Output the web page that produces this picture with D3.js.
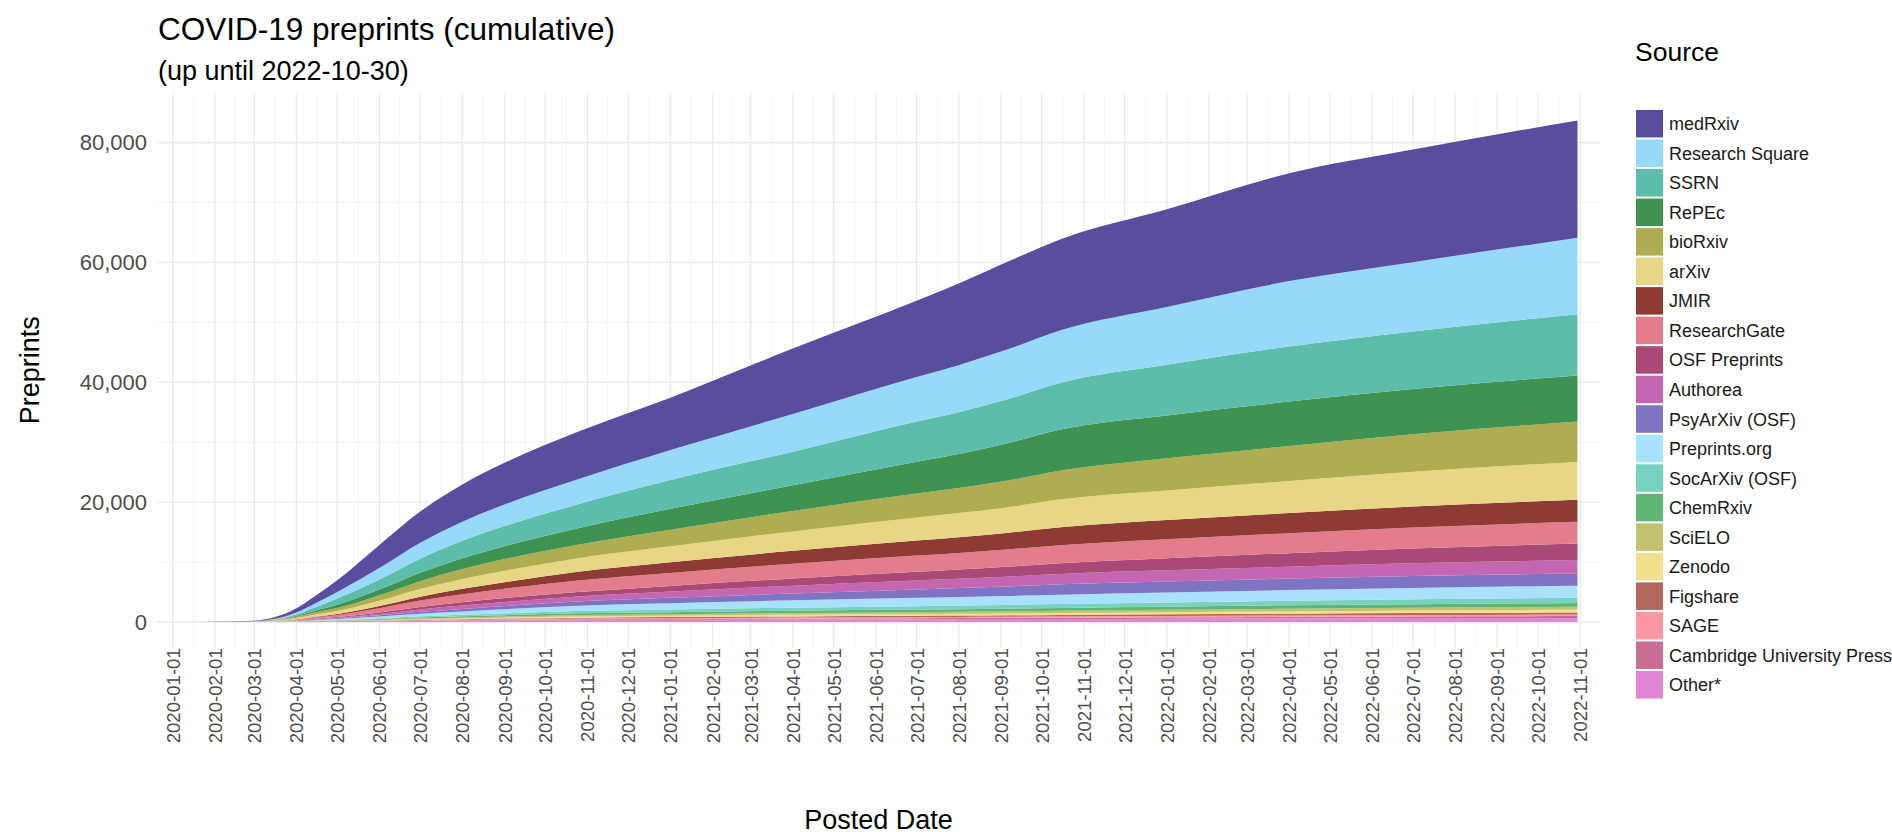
<!DOCTYPE html>
<html>
<head>
<meta charset="utf-8">
<script src="https://cdn.jsdelivr.net/npm/d3@7"></script>
<style>
  html, body { margin: 0; padding: 0; background: #fff; }
  svg { display: block; font-family: "Liberation Sans", Arial, sans-serif; }
  .grid-major { stroke: #ebebeb; stroke-width: 1.4; }
  .grid-minor { stroke: #f0f0f0; stroke-width: 0.8; }
  .tick-text { fill: #4d4d4d; }
</style>
</head>
<body>
<svg id="chart" width="1892" height="832"></svg>
<script>
// ── DATA (cumulative preprint counts) ─────────────────────────────────────

const dates = ["2020-01-15", "2020-02-01", "2020-03-01", "2020-03-15", "2020-04-01", "2020-04-15",
  "2020-05-01", "2020-06-01", "2020-07-01", "2020-08-01", "2020-09-01", "2020-10-25",
  "2021-01-01", "2021-04-01", "2021-07-01", "2021-08-01", "2021-09-05", "2021-10-15",
  "2022-01-01", "2022-04-01", "2022-07-01", "2022-10-30"];

const medRxiv = [0, 15, 90, 260, 680, 1250, 1940, 3850, 5200, 6200, 6950, 7950, 8750, 10900, 12700, 13600, 14600, 15200, 16300, 18000, 18800, 19570];
const researchSquare = [0, 0, 20, 80, 300, 650, 1100, 1900, 2650, 3200, 3600, 4150, 5000, 6300, 7450, 7850, 8300, 8750, 9650, 10900, 11550, 12760];
const ssrn = [0, 0, 10, 60, 250, 550, 1050, 1700, 2350, 2900, 3350, 4000, 4800, 5600, 6700, 6980, 7300, 7800, 8450, 9200, 9600, 10210];
const repec = [0, 0, 0, 20, 120, 300, 550, 950, 1400, 1800, 2150, 2750, 3500, 4300, 5300, 5650, 6250, 6850, 7150, 7400, 7550, 7700];
const bioRxiv = [0, 5, 40, 100, 250, 380, 480, 900, 1300, 1650, 1950, 2250, 2750, 3400, 4000, 4200, 4450, 4800, 5350, 5850, 6250, 6720];
const arXiv = [0, 10, 40, 90, 220, 380, 500, 900, 1300, 1650, 1900, 2250, 2650, 3250, 3850, 4030, 4250, 4650, 4950, 5350, 5800, 6310];
const jmir = [0, 0, 0, 10, 40, 90, 170, 380, 650, 900, 1100, 1480, 1800, 2150, 2500, 2610, 2750, 3000, 3200, 3350, 3520, 3690];
const researchGate = [0, 0, 5, 30, 120, 230, 340, 680, 1050, 1350, 1550, 1900, 2150, 2450, 2700, 2780, 2880, 3000, 3180, 3330, 3480, 3620];
const osfPreprints = [0, 0, 0, 5, 30, 70, 110, 250, 420, 550, 650, 760, 950, 1200, 1450, 1540, 1650, 1780, 2000, 2250, 2480, 2750];
const authorea = [0, 0, 0, 5, 30, 70, 110, 230, 400, 550, 680, 830, 1050, 1300, 1500, 1560, 1640, 1730, 1850, 1980, 2120, 2250];
const psyArXiv = [0, 0, 0, 5, 30, 70, 110, 200, 320, 430, 540, 700, 900, 1150, 1400, 1490, 1600, 1750, 1850, 1930, 1990, 2040];
const preprintsOrg = [0, 0, 10, 40, 100, 140, 170, 300, 430, 560, 680, 880, 1030, 1220, 1380, 1425, 1480, 1550, 1670, 1780, 1890, 2000];
const socArXiv = [0, 0, 3, 8, 25, 45, 70, 130, 200, 255, 310, 400, 450, 520, 575, 593, 615, 650, 700, 765, 815, 870];
const chemRxiv = [0, 0, 2, 6, 18, 32, 52, 100, 150, 190, 230, 295, 335, 385, 425, 438, 455, 480, 520, 570, 610, 650];
const sciELO = [0, 0, 2, 5, 14, 25, 40, 76, 117, 148, 178, 228, 258, 295, 326, 337, 350, 369, 400, 437, 467, 500];
const zenodo = [0, 0, 2, 4, 12, 22, 36, 68, 103, 130, 158, 202, 229, 262, 289, 298, 310, 327, 354, 387, 414, 440];
const figshare = [0, 0, 1, 3, 9, 17, 28, 52, 80, 101, 122, 155, 176, 202, 223, 231, 240, 252, 273, 298, 319, 340];
const sage = [0, 0, 1, 3, 7, 13, 21, 40, 61, 77, 93, 118, 134, 154, 170, 175, 182, 192, 208, 227, 243, 260];
const cambridge = [0, 0, 1, 3, 8, 15, 24, 46, 70, 89, 107, 137, 155, 178, 196, 203, 211, 222, 240, 263, 281, 300];
const other = [0, 0, 3, 8, 17, 31, 59, 108, 169, 210, 252, 315, 363, 404, 446, 465, 487, 508, 555, 601, 651, 690];

// legend order (top of the stack first)
const sources = ["medRxiv", "Research Square", "SSRN", "RePEc", "bioRxiv", "arXiv", "JMIR",
  "ResearchGate", "OSF Preprints", "Authorea", "PsyArXiv (OSF)", "Preprints.org",
  "SocArXiv (OSF)", "ChemRxiv", "SciELO", "Zenodo", "Figshare", "SAGE",
  "Cambridge University Press", "Other*"];
const seriesValues = [medRxiv, researchSquare, ssrn, repec, bioRxiv, arXiv, jmir,
  researchGate, osfPreprints, authorea, psyArXiv, preprintsOrg,
  socArXiv, chemRxiv, sciELO, zenodo, figshare, sage, cambridge, other];
const colors = ["#584d9e", "#98d8f8", "#5cbdab", "#3e9353", "#aead51", "#e6d686", "#8e3b36",
  "#e37d8d", "#a84a75", "#c466b2", "#7e74c3", "#a9e0fc",
  "#77d2c0", "#5fb575", "#c2c270", "#f1e08e", "#b3675f", "#fa97a2",
  "#c86e96", "#e185d5"];

const yTicks = [0, 20000, 40000, 60000, 80000];
const yMinor = [10000, 30000, 50000, 70000];

// ── CHART ─────────────────────────────────────────────────────────────────

const svg = d3.select("#chart");
const panel = { left: 157, right: 1600, top: 93.3, bottom: 647.2 };
const innerWidth = panel.right - panel.left;
const innerHeight = panel.bottom - panel.top;

const parseDate = d3.utcParse("%Y-%m-%d");

const xScale = d3.scaleUtc()
  .domain([new Date(Date.UTC(2019, 11, 20, 11)), new Date(Date.UTC(2022, 10, 15, 13, 30))])
  .range([0, innerWidth]);
const yScale = d3.scaleLinear().domain([-4200, 88200]).range([innerHeight, 0]);

const group = svg.append("g").attr("transform", `translate(${panel.left},${panel.top})`);

// grid lines (monthly majors, mid-month minors)
const months = d3.utcMonth.range(new Date(Date.UTC(2020, 0, 1)), new Date(Date.UTC(2022, 10, 2)));
const midMonths = months.slice(1).map((m, i) => new Date((m.getTime() + months[i].getTime()) / 2));

group.append("g").selectAll("line").data(yMinor).join("line")
  .attr("class", "grid-minor")
  .attr("x1", 0).attr("x2", innerWidth)
  .attr("y1", (d) => yScale(d)).attr("y2", (d) => yScale(d));
group.append("g").selectAll("line").data(midMonths).join("line")
  .attr("class", "grid-minor")
  .attr("x1", (d) => xScale(d)).attr("x2", (d) => xScale(d))
  .attr("y1", 0).attr("y2", innerHeight);
group.append("g").selectAll("line").data(yTicks).join("line")
  .attr("class", "grid-major")
  .attr("x1", 0).attr("x2", innerWidth)
  .attr("y1", (d) => yScale(d)).attr("y2", (d) => yScale(d));
group.append("g").selectAll("line").data(months).join("line")
  .attr("class", "grid-major")
  .attr("x1", (d) => xScale(d)).attr("x2", (d) => xScale(d))
  .attr("y1", 0).attr("y2", innerHeight);

// stacked areas: first legend entry sits on top, so stack keys bottom-up
const table = dates.map((d, i) => {
  const row = { date: parseDate(d) };
  sources.forEach((s, j) => (row[s] = seriesValues[j][i]));
  return row;
});
const stackKeys = sources.slice().reverse();
const layers = d3.stack().keys(stackKeys)(table);
const colorOf = d3.scaleOrdinal().domain(sources).range(colors);

const area = d3.area()
  .x((d) => xScale(d.data.date))
  .y0((d) => yScale(d[0]))
  .y1((d) => yScale(d[1]))
  .curve(d3.curveMonotoneX);

group.append("g").selectAll("path").data(layers).join("path")
  .attr("fill", (d) => colorOf(d.key))
  .attr("d", area);

// y axis
const yAxis = group.append("g")
  .call(d3.axisLeft(yScale).tickValues(yTicks).tickSize(0).tickPadding(10).tickFormat(d3.format(",")));
yAxis.select(".domain").remove();
yAxis.selectAll("text")
  .attr("class", "tick-text")
  .attr("font-size", 22)
  .attr("font-family", "Liberation Sans, Arial, sans-serif");

// x axis with rotated date labels
const xAxis = group.append("g")
  .attr("transform", `translate(0,${innerHeight})`)
  .call(d3.axisBottom(xScale).tickValues(months).tickSize(0).tickFormat(d3.utcFormat("%Y-%m-%d")));
xAxis.select(".domain").remove();
xAxis.selectAll("text")
  .attr("class", "tick-text")
  .attr("font-size", 18.6)
  .attr("font-family", "Liberation Sans, Arial, sans-serif")
  .attr("transform", "rotate(-90)")
  .attr("text-anchor", "end")
  .attr("x", -1)
  .attr("y", 0)
  .attr("dy", "0.35em");

// titles
svg.append("text").attr("x", 158).attr("y", 40)
  .attr("font-size", 31.5).attr("fill", "#000")
  .text("COVID-19 preprints (cumulative)");
svg.append("text").attr("x", 158).attr("y", 80)
  .attr("font-size", 27).attr("fill", "#000")
  .text("(up until 2022-10-30)");

svg.append("text")
  .attr("x", (panel.left + panel.right) / 2).attr("y", 829)
  .attr("text-anchor", "middle").attr("font-size", 27).attr("fill", "#000")
  .text("Posted Date");
svg.append("text")
  .attr("transform", "rotate(-90)")
  .attr("x", -(panel.top + panel.bottom) / 2).attr("y", 39)
  .attr("text-anchor", "middle").attr("font-size", 27).attr("fill", "#000")
  .text("Preprints");

// legend
const legend = svg.append("g").attr("transform", "translate(1636,0)");
legend.append("text").attr("x", -1).attr("y", 61)
  .attr("font-size", 26.5).attr("fill", "#000").text("Source");
const items = legend.selectAll("g.item").data(sources).join("g")
  .attr("class", "item")
  .attr("transform", (d, i) => `translate(0,${123.7 + i * 29.53})`);
items.append("rect")
  .attr("x", 0).attr("y", -13.75).attr("width", 27).attr("height", 27.5)
  .attr("fill", (d) => colorOf(d));
items.append("text")
  .attr("x", 33).attr("y", 6.5)
  .attr("font-size", 18).attr("fill", "#1a1a1a")
  .text((d) => d);
</script>
</body>
</html>
